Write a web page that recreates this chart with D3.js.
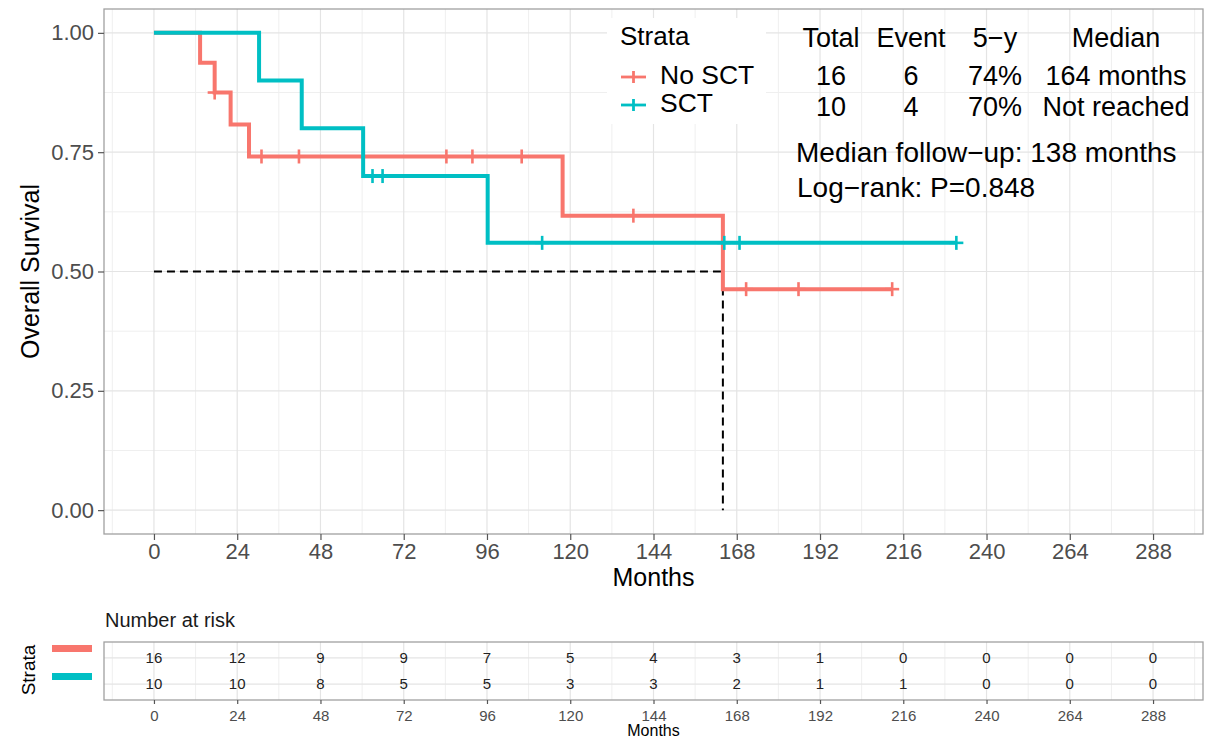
<!DOCTYPE html>
<html>
<head>
<meta charset="utf-8">
<script src="https://cdn.jsdelivr.net/npm/d3@7"></script>
<style>
  body { margin: 0; background: #fff; }
  svg { display: block; font-family: "Liberation Sans", Arial, sans-serif; }
</style>
</head>
<body>
<svg id="chart"></svg>
<script>
// ---- data ----
const xTicks = [0, 24, 48, 72, 96, 120, 144, 168, 192, 216, 240, 264, 288];
const yTicks = [0, 0.25, 0.5, 0.75, 1];
const strata = ['No SCT', 'SCT'];
const colors = ['#F8766D', '#00BFC4'];

// step times (months) and survival after each step
const noSctTimes = [0, 13.3, 17.5, 22.1, 27.4, 117.8, 164];
const noSctSurv = [1, 0.9375, 0.875, 0.808, 0.741, 0.617, 0.463];
const noSctCensor = [17.5, 31.0, 41.8, 84.3, 91.8, 106.0, 138.2, 170.7, 185.8, 212.8];
const noSctEnd = 212.8;

const sctTimes = [0, 30.3, 42.6, 60.3, 96.2];
const sctSurv = [1, 0.9, 0.8, 0.7, 0.56];
const sctCensor = [63.0, 65.9, 111.9, 164.4, 168.8, 231.3];
const sctEnd = 231.3;

const medianTime = 164;

const riskNoSct = [16, 12, 9, 9, 7, 5, 4, 3, 1, 0, 0, 0, 0];
const riskSct = [10, 10, 8, 5, 5, 3, 3, 2, 1, 1, 0, 0, 0];

const tableHeader = ['Total', 'Event', '5\u2212y', 'Median'];
const tableNoSct = ['16', '6', '74%', '164 months'];
const tableSct = ['10', '4', '70%', 'Not reached'];
const followUp = 'Median follow\u2212up: 138 months';
const logRank = 'Log\u2212rank: P=0.848';

// ---- layout ----
const width = 1215, height = 741;
const panel = {left: 104, right: 1203, top: 9, bottom: 534};
const risk = {top: 642, bottom: 700};

const svg = d3.select('#chart').attr('width', width).attr('height', height);
svg.append('rect').attr('width', width).attr('height', height).attr('fill', '#fff');

const x = d3.scaleLinear().domain([-14.4, 302.4]).range([panel.left, panel.right]);
const y = d3.scaleLinear().domain([-0.05, 1.05]).range([panel.bottom, panel.top]);
const yRisk = d3.scaleLinear().domain([0.4, 2.6]).range([risk.bottom, risk.top]);

const xMinor = d3.range(-12, 301, 24);
const yMinor = [0.125, 0.375, 0.625, 0.875];

// gridlines
const grid = svg.append('g');
function vlines(vals, y0, y1, col, w) {
    grid.selectAll(null).data(vals).enter().append('line')
        .attr('x1', d => x(d)).attr('x2', d => x(d))
        .attr('y1', y0).attr('y2', y1)
        .attr('stroke', col).attr('stroke-width', w);
}
function hlines(vals, sc, col, w) {
    grid.selectAll(null).data(vals).enter().append('line')
        .attr('x1', panel.left).attr('x2', panel.right)
        .attr('y1', d => sc(d)).attr('y2', d => sc(d))
        .attr('stroke', col).attr('stroke-width', w);
}
vlines(xMinor, panel.top, panel.bottom, '#efefef', 1);
hlines(yMinor, y, '#efefef', 1);
vlines(xTicks, panel.top, panel.bottom, '#e4e4e4', 1.2);
hlines(yTicks, y, '#e4e4e4', 1.2);

vlines(xMinor, risk.top, risk.bottom, '#efefef', 1);
vlines(xTicks, risk.top, risk.bottom, '#e4e4e4', 1.2);
hlines([1, 2], yRisk, '#e4e4e4', 1.2);

// median dashed line
svg.append('path')
    .attr('d', d3.line()([[x(0), y(0.5)], [x(medianTime), y(0.5)], [x(medianTime), y(0)]]))
    .attr('fill', 'none').attr('stroke', '#000').attr('stroke-width', 2)
    .attr('stroke-dasharray', '8,5');

// curves
const groups = [
    {times: noSctTimes, surv: noSctSurv, censor: noSctCensor, end: noSctEnd, color: colors[0]},
    {times: sctTimes, surv: sctSurv, censor: sctCensor, end: sctEnd, color: colors[1]}
];
const step = d3.line().x(d => x(d[0])).y(d => y(d[1])).curve(d3.curveStepAfter);

groups.forEach(g => {
    const pts = g.times.map((t, i) => [t, g.surv[i]]);
    pts.push([g.end, g.surv[g.surv.length - 1]]);
    svg.append('path').attr('d', step(pts))
        .attr('fill', 'none').attr('stroke', g.color).attr('stroke-width', 4);

    const survAt = t => g.surv[d3.bisectRight(g.times, t) - 1];
    const marks = svg.append('g').attr('stroke', g.color).attr('stroke-width', 2.6);
    g.censor.forEach(t => {
        const cx = x(t), cy = y(survAt(t));
        marks.append('line').attr('x1', cx).attr('x2', cx).attr('y1', cy - 7).attr('y2', cy + 7);
        marks.append('line').attr('x1', cx - 7).attr('x2', cx + 7).attr('y1', cy).attr('y2', cy);
    });
});

// panel borders
svg.append('rect').attr('x', panel.left).attr('y', panel.top)
    .attr('width', panel.right - panel.left).attr('height', panel.bottom - panel.top)
    .attr('fill', 'none').attr('stroke', '#a0a0a0').attr('stroke-width', 1.3);
svg.append('rect').attr('x', panel.left).attr('y', risk.top)
    .attr('width', panel.right - panel.left).attr('height', risk.bottom - risk.top)
    .attr('fill', 'none').attr('stroke', '#a0a0a0').attr('stroke-width', 1.3);

// axes
function styleAxis(sel, size) {
    sel.select('.domain').remove();
    sel.selectAll('.tick line').attr('stroke', '#555').attr('stroke-width', 1.2);
    sel.selectAll('.tick text').attr('fill', '#4d4d4d').attr('font-size', size)
        .attr('font-family', '"Liberation Sans", Arial, sans-serif');
}
svg.append('g').attr('transform', `translate(0,${panel.bottom})`)
    .call(d3.axisBottom(x).tickValues(xTicks).tickSize(6).tickPadding(3))
    .call(s => styleAxis(s, 22));
svg.append('g').attr('transform', `translate(${panel.left},0)`)
    .call(d3.axisLeft(y).tickValues(yTicks).tickFormat(d3.format('.2f')).tickSize(6).tickPadding(4))
    .call(s => styleAxis(s, 22));
svg.append('g').attr('transform', `translate(0,${risk.bottom})`)
    .call(d3.axisBottom(x).tickValues(xTicks).tickSize(4).tickPadding(6))
    .call(s => styleAxis(s, 15));

// axis titles
svg.append('text').attr('x', (panel.left + panel.right) / 2).attr('y', 586)
    .attr('text-anchor', 'middle').attr('font-size', 25).text('Months');
svg.append('text').attr('transform', `translate(39,${(panel.top + panel.bottom) / 2}) rotate(-90)`)
    .attr('text-anchor', 'middle').attr('font-size', 25).text('Overall Survival');

// legend
svg.append('rect').attr('x', 607).attr('y', 18).attr('width', 159).attr('height', 106).attr('fill', '#fff');
svg.append('text').attr('x', 620).attr('y', 45).attr('font-size', 26).text('Strata');
strata.forEach((s, i) => {
    const ly = [77, 105][i];
    const lg = svg.append('g').attr('stroke', colors[i]).attr('stroke-width', 2.8);
    lg.append('line').attr('x1', 621).attr('x2', 646).attr('y1', ly).attr('y2', ly);
    lg.append('line').attr('x1', 633.5).attr('x2', 633.5).attr('y1', ly - 6).attr('y2', ly + 6);
    svg.append('text').attr('x', 660).attr('y', ly + 7).attr('font-size', 26.5).text(s);
});

// stats table
const colX = [831, 911, 995, 1116];
[[tableHeader, 47], [tableNoSct, 85], [tableSct, 116]].forEach(([row, by]) => {
    svg.selectAll(null).data(row).enter().append('text')
        .attr('x', (d, i) => colX[i]).attr('y', by)
        .attr('text-anchor', 'middle').attr('font-size', 27).text(d => d);
});
svg.append('text').attr('x', 796).attr('y', 162).attr('font-size', 28).text(followUp);
svg.append('text').attr('x', 797).attr('y', 197).attr('font-size', 28).text(logRank);

// risk table
svg.append('text').attr('x', 105).attr('y', 627).attr('font-size', 20).attr('fill', '#1a1a1a').text('Number at risk');
[riskNoSct, riskSct].forEach((vals, r) => {
    svg.selectAll(null).data(vals).enter().append('text')
        .attr('x', (d, i) => x(xTicks[i])).attr('y', yRisk(2 - r))
        .attr('dy', '0.35em').attr('text-anchor', 'middle')
        .attr('font-size', 15).attr('fill', '#222').text(d => d);
    svg.append('rect').attr('x', 52).attr('y', [645, 673][r])
        .attr('width', 40).attr('height', 7).attr('fill', colors[r]);
});
svg.append('text').attr('transform', 'translate(35,670) rotate(-90)')
    .attr('text-anchor', 'middle').attr('font-size', 19).text('Strata');
svg.append('text').attr('x', (panel.left + panel.right) / 2).attr('y', 736)
    .attr('text-anchor', 'middle').attr('font-size', 16).text('Months');
</script>
</body>
</html>
